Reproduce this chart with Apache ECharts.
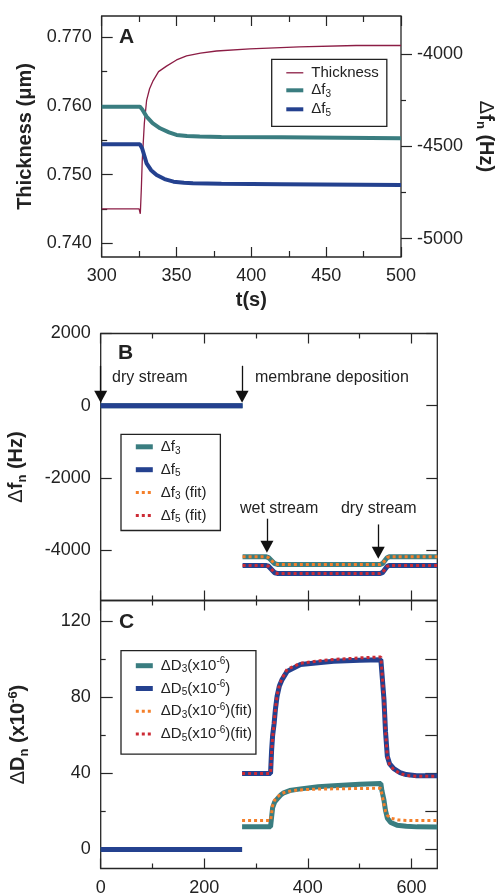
<!DOCTYPE html>
<html>
<head>
<meta charset="utf-8">
<script src="https://cdn.jsdelivr.net/npm/echarts@6/dist/echarts.min.js"></script>
<style>
html, body { margin: 0; padding: 0; background: #fff; }
#main { width: 496px; height: 896px; }
</style>
</head>
<body>
<div id="main"></div>
<script>
const FONT = '"Liberation Sans", Arial, Helvetica, sans-serif';
const INK = '#262626';
const TEAL = '#3a7d80';
const NAVY = '#24418f';
const MAROON = '#8c1d45';
const ORANGE = '#f47f2a';
const RED = '#cc2b35';

// ---- panel A: zoom on the deposition step (t = 300..500 s)
const thickT = [300, 325, 325.8, 326.5, 327.1, 328.5, 330, 332, 334.4, 338, 343.3, 350, 356.7, 366, 376.7, 399, 432, 470, 500];
const thickV = [0.745, 0.745, 0.7443, 0.748, 0.7521, 0.7575, 0.7608, 0.7625, 0.7637, 0.765, 0.7658, 0.7667, 0.7673, 0.7677, 0.768, 0.7683, 0.7686, 0.7688, 0.7688];
const f3AT = [300, 325.5, 327, 330, 334, 339, 345, 350, 357, 365.5, 380, 420, 500];
const f3AV = [-4286, -4286, -4300, -4340, -4375, -4403, -4425, -4439, -4445, -4448, -4450, -4452, -4457];
const f5AT = [300, 325.5, 327, 330, 333, 336.7, 342, 348, 355, 361, 380, 420, 500];
const f5AV = [-4490, -4490, -4511, -4593, -4630, -4656, -4678, -4692, -4698, -4701, -4704, -4706, -4710];

// ---- panel B: frequency shifts over the whole run
const fBT = [0, 274, 274, 274, 320, 324, 336, 341, 540, 544, 553, 557, 650];
const f3BV = [0, 0, '-', -4190, -4190, -4210, -4380, -4400, -4400, -4380, -4215, -4190, -4190];
const f5BV = [0, 0, '-', -4430, -4430, -4450, -4630, -4650, -4650, -4630, -4455, -4430, -4430];
const fitBT = [274, 320, 324, 336, 341, 540, 544, 553, 557, 650];
const fit3BV = [-4190, -4190, -4210, -4380, -4400, -4400, -4380, -4215, -4190, -4190];
const fit5BV = [-4430, -4430, -4450, -4630, -4650, -4650, -4630, -4455, -4430, -4430];

// annotations of panel B
const arrowX = [0, 273, 321, 536];
const arrowFrom = [1105, 1105, -3133, -3292];
const arrowTo = [250, 250, -3911, -4080];
const noteText = ['dry stream', 'membrane deposition', 'wet stream', 'dry stream'];
const noteX = [21, 297, 268, 463];
const noteY = [790, 790, -2847, -2847];

// ---- panel C: dissipation shifts
const d5T = [0, 273, 273, 273, 328, 330, 332, 334.8, 337.5, 340.6, 345, 350.3, 360, 385.8, 420, 450, 500, 541, 543, 547, 550, 553.5, 558, 566, 578, 590, 610, 650];
const d5V = [0, 0, '-', 40, 40, 52, 60, 66, 74, 80.6, 86, 89.4, 93.7, 97.3, 98.3, 99, 99.5, 99.8, 93, 79, 62, 49, 45, 42.5, 40.5, 39.4, 38.8, 38.8];
const d3T = [0, 273, 273, 273, 328, 330, 332, 336, 340.6, 347, 353.5, 365, 385.8, 420, 450, 500, 541, 543, 547, 550, 553.5, 560, 572, 590, 611, 650];
const d3V = [0, 0, '-', 12, 12, 17, 22, 25, 26.5, 28.5, 29.8, 31, 31.9, 33, 33.6, 34.3, 34.7, 31, 26, 20.5, 16.5, 14.2, 12.8, 12.2, 11.9, 11.8];
const fit5CT = [273, 328, 330, 332, 334.8, 337.5, 340.6, 345, 350.3, 360, 385.8, 420, 450, 500, 541, 543, 547, 550, 553.5, 558, 566, 578, 590, 610, 650];
const fit5CV = [40, 40, 51, 59, 66, 74, 81, 86.5, 90, 94.8, 98, 99.2, 100, 100.8, 101.3, 94, 79, 62, 49, 44.5, 42, 40, 39, 38.5, 38.5];
const fit3CT = [273, 328, 330, 332, 336, 340.6, 350, 360, 380, 420, 500, 541, 543, 547, 550, 553.5, 560, 575, 600, 650];
const fit3CV = [15.2, 15.2, 19, 23, 26, 27.5, 29.5, 30.5, 31.3, 31.8, 32.1, 32.2, 29, 24, 20, 18, 16.5, 15.5, 15.2, 15.2];

// tick / label values
const tA = [300, 350, 400, 450, 500];
const tAminor = [325, 375, 425, 475];
const thickTicks = [0.74, 0.75, 0.76, 0.77];
const thickMinor = [0.745, 0.755, 0.765];
const fARight = [-5000, -4500, -4000];
const fARightMinor = [-4750, -4250];
const tBC = [0, 200, 400, 600];
const tBCminor = [100, 300, 500];
const fBTicks = [-4000, -2000, 0, 2000];
const dCTicks = [0, 40, 80, 120];
const dCMinor = [20, 60, 100];
const dCAll = [0, 20, 40, 60, 80, 100, 120];

function pairs(xs, ys) { return xs.map((x, i) => [x, ys[i]]); }

const labelStyle = { fontSize: 18, fontFamily: FONT, color: '#222' };
const tickLine = { color: INK, width: 1.2 };

const xAxes = [];
const yAxes = [];
function tickAxis(list, grid, pos, min, max, vals, len, inside) {
    list.push({
        type: 'value', gridIndex: grid, position: pos, min: min, max: max,
        axisLine: { show: false, onZero: false },
        splitLine: { show: false },
        axisLabel: { show: false },
        axisTick: { show: true, inside: inside, length: len, customValues: vals, lineStyle: tickLine }
    });
    return list.length - 1;
}
function labelAxis(list, grid, pos, min, max, vals, ticks, len, inside, margin, fmt) {
    list.push({
        type: 'value', gridIndex: grid, position: pos, min: min, max: max,
        axisLine: { show: false, onZero: false },
        splitLine: { show: false },
        axisLabel: Object.assign({ show: true, customValues: vals, margin: margin, formatter: fmt }, labelStyle),
        axisTick: { show: true, inside: inside, length: len, customValues: ticks, lineStyle: tickLine }
    });
    return list.length - 1;
}

const nameRich = {
    d: { fontSize: 20, fontFamily: FONT, color: '#222', lineHeight: 24 },
    b: { fontSize: 20, fontWeight: 'bold', fontFamily: FONT, color: '#222', lineHeight: 24 },
    s: { fontSize: 13, fontWeight: 'bold', fontFamily: FONT, color: '#222', lineHeight: 13, verticalAlign: 'bottom' },
    p: { fontSize: 13, fontWeight: 'bold', fontFamily: FONT, color: '#222', lineHeight: 13, verticalAlign: 'top' }
};

// panel A axes
const xA = labelAxis(xAxes, 0, 'bottom', 300, 500, tA, tA, 10, true, 10, v => String(v));
Object.assign(xAxes[xA], {
    name: 't(s)', nameLocation: 'middle', nameGap: 33,
    nameTextStyle: { fontSize: 20, fontWeight: 'bold', fontFamily: FONT, color: '#222' }
});
tickAxis(xAxes, 0, 'bottom', 300, 500, tAminor, 6, true);
tickAxis(xAxes, 0, 'top', 300, 500, tA, 10, true);
tickAxis(xAxes, 0, 'top', 300, 500, tAminor, 6, true);

const yAL = labelAxis(yAxes, 0, 'left', 0.738, 0.7731, thickTicks, thickTicks, 11, true, 10, v => v.toFixed(3));
Object.assign(yAxes[yAL], {
    name: 'Thickness (μm)', nameLocation: 'middle', nameGap: 66,
    nameTextStyle: { fontSize: 20, fontWeight: 'bold', fontFamily: FONT, color: '#222' }
});
tickAxis(yAxes, 0, 'left', 0.738, 0.7731, thickMinor, 5.5, true);
const yAR = labelAxis(yAxes, 0, 'right', -5100, -3795, fARight, fARight, 11, false, 16, v => String(v));
Object.assign(yAxes[yAR], {
    name: '{d|Δ}{b|f}{s|n}{b| (Hz)}', nameLocation: 'middle', nameGap: 73, nameRotate: -90,
    nameTextStyle: { rich: nameRich }
});
tickAxis(yAxes, 0, 'right', -5100, -3795, fARightMinor, 5, false);

// panel B axes
const xB = tickAxis(xAxes, 1, 'bottom', 0, 650, tBC, 10, true);
tickAxis(xAxes, 1, 'bottom', 0, 650, tBCminor, 5, true);
tickAxis(xAxes, 1, 'top', 0, 650, tBC, 10, true);
tickAxis(xAxes, 1, 'top', 0, 650, tBCminor, 5, true);
const yB = labelAxis(yAxes, 1, 'left', -5400, 2000, fBTicks, fBTicks, 11, true, 10, v => String(v));
Object.assign(yAxes[yB], {
    name: '{d|Δ}{b|f}{s|n}{b| (Hz)}', nameLocation: 'middle', nameGap: 72,
    nameTextStyle: { rich: nameRich }
});
tickAxis(yAxes, 1, 'right', -5400, 2000, fBTicks, 11, true);

// panel C axes
const xC = labelAxis(xAxes, 2, 'bottom', 0, 650, tBC, tBC, 10, true, 11, v => String(v));
tickAxis(xAxes, 2, 'bottom', 0, 650, tBCminor, 5, true);
tickAxis(xAxes, 2, 'top', 0, 650, tBC, 10, true);
tickAxis(xAxes, 2, 'top', 0, 650, tBCminor, 5, true);
const yC = labelAxis(yAxes, 2, 'left', -10, 131, dCTicks, dCTicks, 12, true, 10, v => String(v));
Object.assign(yAxes[yC], {
    name: '{d|Δ}{b|D}{s|n}{b| (x10}{p|-6}{b|)}', nameLocation: 'middle', nameGap: 70,
    nameTextStyle: { rich: nameRich }
});
tickAxis(yAxes, 2, 'left', -10, 131, dCMinor, 5, true);
tickAxis(yAxes, 2, 'right', -10, 131, dCAll, 12, true);

// legend labels (rich text for the subscripts)
const LABELS = {
    thickA: '{t|Thickness}',
    f3A: '{t|Δf}{s|3}', f5A: '{t|Δf}{s|5}',
    f3B: '{t|Δf}{s|3}', f5B: '{t|Δf}{s|5}',
    fit3B: '{t|Δf}{s|3}{t| (fit)}', fit5B: '{t|Δf}{s|5}{t| (fit)}',
    d3C: '{t|ΔD}{s|3}{t|(x10}{p|-6}{t|)}', d5C: '{t|ΔD}{s|5}{t|(x10}{p|-6}{t|)}',
    fit3C: '{t|ΔD}{s|3}{t|(x10}{p|-6}{t|)(fit)}', fit5C: '{t|ΔD}{s|5}{t|(x10}{p|-6}{t|)(fit)}'
};
// line width of each legend sample
const SAMPLE_W = { thickA: 1.3, f3A: 4, f5A: 4, f3B: 5, f5B: 5, fit3B: 3, fit5B: 3, d3C: 5, d5C: 5, fit3C: 3, fit5C: 3 };
const RICH = {
    t: { fontSize: 15, fontFamily: FONT, color: '#222', lineHeight: 18 },
    s: { fontSize: 10, fontFamily: FONT, color: '#222', lineHeight: 10, verticalAlign: 'bottom' },
    p: { fontSize: 10, fontFamily: FONT, color: '#222', lineHeight: 10, verticalAlign: 'top' }
};
function legend(names, left, top, padding, gap) {
    return {
        data: names.map(n => ({ name: n, lineStyle: { width: SAMPLE_W[n] } })),
        orient: 'vertical', left: left, top: top, padding: padding, itemGap: gap,
        itemWidth: 17, itemHeight: 4, selectedMode: false,
        itemStyle: { opacity: 0 },
        borderColor: '#222', borderWidth: 1.3, backgroundColor: '#fff',
        formatter: n => LABELS[n],
        textStyle: { padding: [0, 0, 0, 3], rich: RICH }
    };
}

function line(name, xi, yi, data, color, width, dotted, extra) {
    return Object.assign({
        name: name, type: 'line', xAxisIndex: xi, yAxisIndex: yi, data: data,
        symbol: 'none', showSymbol: false, connectNulls: false,
        lineStyle: { color: color, width: width, type: dotted ? [3, 3] : 'solid', cap: 'butt' },
        itemStyle: { color: color }
    }, extra || {});
}

const arrows = {
    silent: true,
    symbol: ['none', 'triangle'],
    symbolSize: [13, 12],
    lineStyle: { color: '#111', width: 1.3, type: 'solid' },
    label: { show: false },
    emphasis: { disabled: true },
    data: arrowX.map((x, i) => [{ coord: [x, arrowFrom[i]] }, { coord: [x, arrowTo[i]] }])
};
const notes = {
    silent: true,
    symbol: 'circle', symbolSize: 1,
    itemStyle: { color: 'rgba(0,0,0,0)' },
    label: { show: true, position: 'right', distance: 0, formatter: p => p.name, fontSize: 16, fontFamily: FONT, color: '#222' },
    data: noteText.map((t, i) => ({ name: t, coord: [noteX[i], noteY[i]] }))
};

const grids = [
    { left: 101.7, top: 16, width: 299.3, height: 241 },
    { left: 100.7, top: 333.5, width: 336.6, height: 267 },
    { left: 100.7, top: 600.5, width: 336.6, height: 268 }
].map(g => Object.assign(g, { show: true, borderColor: INK, borderWidth: 1.3, backgroundColor: 'transparent', containLabel: false, outerBoundsMode: 'none' }));

const letter = (text, left, top) => ({
    text: text, left: left, top: top, padding: 0,
    textStyle: { fontSize: 21, fontWeight: 'bold', fontFamily: FONT, color: '#222' }
});

let options = {
    animation: false,
    backgroundColor: '#fff',
    title: [letter('A', 119, 27), letter('B', 118, 343), letter('C', 119, 612)],
    grid: grids,
    xAxis: xAxes,
    yAxis: yAxes,
    legend: [
        legend(['thickA', 'f3A', 'f5A'], 271.7, 59.3, [6, 8, 8, 12.6], 2.5),
        legend(['f3B', 'f5B', 'fit3B', 'fit5B'], 121, 434.3, [5, 14, 6, 12.3], 6.4),
        legend(['d3C', 'd5C', 'fit3C', 'fit5C'], 121, 650.7, [6, 4, 11, 12.3], 4.8)
    ],
    series: [
        line('thickA', xA, yAL, pairs(thickT, thickV), MAROON, 1.3, false),
        line('f3A', xA, yAR, pairs(f3AT, f3AV), TEAL, 4, false),
        line('f5A', xA, yAR, pairs(f5AT, f5AV), NAVY, 4, false),

        line('f3B', xB, yB, pairs(fBT, f3BV), TEAL, 5, false),
        line('f5B', xB, yB, pairs(fBT, f5BV), NAVY, 5, false, { markLine: arrows, markPoint: notes }),
        line('fit3B', xB, yB, pairs(fitBT, fit3BV), ORANGE, 3, true),
        line('fit5B', xB, yB, pairs(fitBT, fit5BV), RED, 3, true),

        line('d3C', xC, yC, pairs(d3T, d3V), TEAL, 5, false),
        line('d5C', xC, yC, pairs(d5T, d5V), NAVY, 5, false),
        line('fit3C', xC, yC, pairs(fit3CT, fit3CV), ORANGE, 3, true),
        line('fit5C', xC, yC, pairs(fit5CT, fit5CV), RED, 3, true)
    ]
};

let myChart = echarts.init(document.getElementById('main'), null, { renderer: 'canvas' });
myChart.setOption(options);
</script>
</body>
</html>
